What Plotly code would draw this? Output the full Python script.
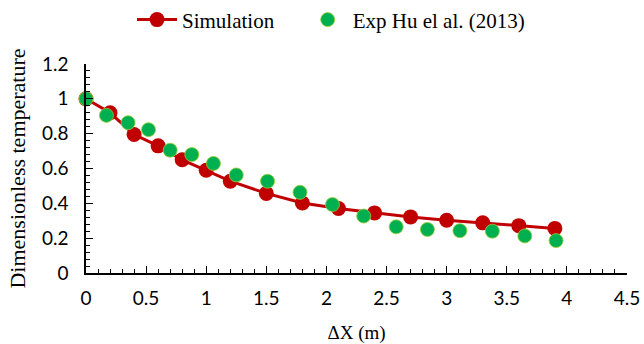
import plotly.graph_objects as go

# Simulation results
sim_x = [0.0, 0.2, 0.4, 0.6, 0.8, 1.0, 1.2, 1.5, 1.8, 2.1, 2.4, 2.7, 3.0, 3.3, 3.6, 3.9]
sim_y = [1.0, 0.92, 0.795, 0.73, 0.65, 0.59, 0.527, 0.457, 0.402, 0.37, 0.345, 0.322, 0.303, 0.288, 0.272, 0.256]

# Experimental data, Hu et al. (2013)
exp_x = [0.0, 0.17, 0.35, 0.52, 0.70, 0.88, 1.06, 1.25, 1.51, 1.78, 2.05, 2.31, 2.58, 2.84, 3.11, 3.38, 3.65, 3.91]
exp_y = [1.0, 0.905, 0.863, 0.823, 0.705, 0.68, 0.629, 0.563, 0.527, 0.463, 0.393, 0.327, 0.265, 0.25, 0.243, 0.24, 0.213, 0.186]

x_ticks = [0, 0.5, 1, 1.5, 2, 2.5, 3, 3.5, 4, 4.5]
x_labels = ["0", "0.5", "1", "1.5", "2", "2.5", "3", "3.5", "4", "4.5"]
y_ticks = [0, 0.2, 0.4, 0.6, 0.8, 1.0, 1.2]
y_labels = ["0", "0.2", "0.4", "0.6", "0.8", "1", "1.2"]

RED = "#C00000"
GREEN = "#00B050"
SERIF = "Liberation Serif, Times New Roman, serif"
SANS = "Lato, Open Sans, sans-serif"

fig = go.Figure()
fig.add_trace(go.Scatter(
    x=sim_x, y=sim_y, name="Simulation", mode="lines+markers",
    line=dict(color=RED, width=3),
    marker=dict(color=RED, size=15, line=dict(width=0)),
    cliponaxis=False, legend="legend",
))
fig.add_trace(go.Scatter(
    x=exp_x, y=exp_y, name="Exp Hu el al. (2013)", mode="markers",
    marker=dict(color=GREEN, size=14, line=dict(color="#9ACD32", width=0.8)),
    cliponaxis=False, legend="legend2",
))

legend_style = dict(
    orientation="h", xref="container", yref="container",
    xanchor="left", y=0.942, yanchor="middle",
    font=dict(family=SERIF, size=21, color="black"),
    itemwidth=40, bgcolor="rgba(0,0,0,0)",
)

fig.update_layout(
    width=644, height=344,
    margin=dict(l=86, r=17, t=64, b=71, autoexpand=False),
    paper_bgcolor="white", plot_bgcolor="white",
    showlegend=True,
    legend=dict(x=0.205, **legend_style),
    legend2=dict(x=0.47, **legend_style),
    font=dict(family=SANS, color="black"),
)

fig.update_xaxes(
    range=[0, 4.5], tickvals=x_ticks, ticktext=x_labels,
    showgrid=False, zeroline=False, automargin=False,
    showline=True, linecolor="black", linewidth=1.5,
    ticks="inside", ticklen=7, tickwidth=1.2, tickcolor="black",
    minor=dict(dtick=0.1, ticks="inside", ticklen=4, tickwidth=1, tickcolor="black"),
    tickfont=dict(family=SANS, size=19, color="black"),
    ticklabelstandoff=7,
    title=dict(text="ΔX (m)", font=dict(family=SERIF, size=19, color="black"), standoff=22),
)
fig.update_yaxes(
    range=[0, 1.2], tickvals=y_ticks, ticktext=y_labels,
    showgrid=False, zeroline=False, automargin=False,
    showline=True, linecolor="black", linewidth=1.5,
    ticks="inside", ticklen=7, tickwidth=1.2, tickcolor="black",
    minor=dict(dtick=0.04, ticks="inside", ticklen=4, tickwidth=1, tickcolor="black"),
    tickfont=dict(family=SANS, size=19, color="black"),
    ticklabelstandoff=12,
    title=dict(text="Dimensionless temperature", font=dict(family=SERIF, size=22, color="black"), standoff=10),
)

fig.write_html("out.html")
